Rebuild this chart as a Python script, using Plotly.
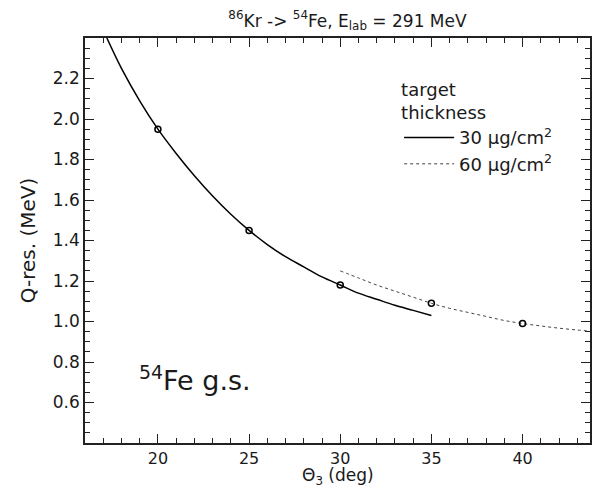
import plotly.graph_objects as go

# Data
theta_30 = [17.2, 18, 19, 20, 21, 22, 23, 24, 25, 26, 27, 28, 29, 30, 31, 32, 33, 34, 35]
q_30 = [2.40, 2.25, 2.09, 1.95, 1.83, 1.72, 1.62, 1.53, 1.45, 1.38, 1.32, 1.27, 1.22, 1.18, 1.14, 1.11, 1.08, 1.055, 1.03]
theta_60 = [30, 31, 32, 33, 34, 35, 36, 37, 38, 39, 40, 41, 42, 43, 43.7]
q_60 = [1.25, 1.215, 1.18, 1.15, 1.12, 1.09, 1.065, 1.045, 1.025, 1.005, 0.99, 0.978, 0.967, 0.958, 0.953]
pts_theta = [20, 25, 30, 35, 40]
pts_q = [1.95, 1.45, 1.18, 1.09, 0.99]
y_ticks = [0.6, 0.8, 1.0, 1.2, 1.4, 1.6, 1.8, 2.0, 2.2]
x_ticks = [20, 25, 30, 35, 40]

FONT = "DejaVu Sans"
INK = "#1a1a1a"

fig = go.Figure()
fig.add_trace(go.Scatter(x=theta_30, y=q_30, mode="lines", line=dict(color="black", width=1.5),
                         name="30 μg/cm<sup>2</sup>", line_shape="spline"))
fig.add_trace(go.Scatter(x=theta_60, y=q_60, mode="lines", line=dict(color="#444444", width=1, dash="dot"),
                         name="60 μg/cm<sup>2</sup>", line_shape="spline"))
fig.add_trace(go.Scatter(x=pts_theta, y=pts_q, mode="markers", showlegend=False,
                         marker=dict(symbol="circle-open", size=6, color="black", line=dict(width=1.5))))

axis_common = dict(showline=True, linecolor="#222222", linewidth=1.5, mirror="allticks",
                   ticks="inside", ticklen=9, tickwidth=1.2, tickcolor="#222222",
                   showgrid=False, zeroline=False,
                   tickfont=dict(family=FONT, size=17, color=INK))

fig.update_xaxes(range=[16, 43.7], tickvals=x_ticks,
                 minor=dict(dtick=1, tick0=0, ticks="inside", ticklen=5, tickcolor="#222222", tickwidth=1),
                 **axis_common)
fig.update_xaxes(tickfont=dict(size=16))
fig.update_yaxes(range=[0.4, 2.4], tickvals=y_ticks, tickformat=".1f",
                 minor=dict(dtick=0.05, tick0=0, ticks="inside", ticklen=5, tickcolor="#222222", tickwidth=1),
                 title=dict(text="Q-res. (MeV)", font=dict(family=FONT, size=20, color=INK), standoff=12),
                 **axis_common)

fig.update_layout(
    width=594, height=490,
    margin=dict(l=85, r=2, t=38, b=47),
    paper_bgcolor="white", plot_bgcolor="white",
    title=dict(text="<sup>86</sup>Kr -> <sup>54</sup>Fe, E<sub>lab</sub> = 291 MeV",
               x=0.585, xanchor="center", y=0.97, yanchor="top",
               font=dict(family=FONT, size=17, color=INK)),
    legend=dict(x=0.622, y=0.915, xanchor="left", yanchor="top", bgcolor="rgba(0,0,0,0)",
                font=dict(family=FONT, size=18, color=INK), itemwidth=50, tracegroupgap=0,
                title=dict(text="target<br>thickness", font=dict(family=FONT, size=18, color=INK))),
    annotations=[
        dict(text="<sup>54</sup>Fe g.s.", x=0.103, y=0.16, xref="paper", yref="paper",
             xanchor="left", yanchor="middle", showarrow=False,
             font=dict(family=FONT, size=27, color=INK)),
        dict(text="Θ<sub>3</sub> (deg)", x=0.5, y=-0.1145, xref="paper", yref="paper",
             xanchor="center", yanchor="bottom", showarrow=False, borderpad=0,
             font=dict(family=FONT, size=17, color=INK)),
    ],
)

fig.write_html("out.html")
